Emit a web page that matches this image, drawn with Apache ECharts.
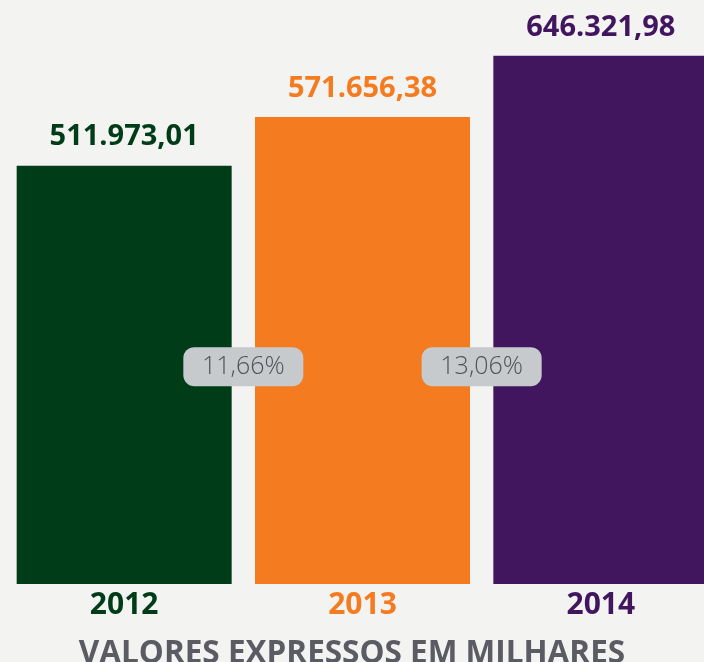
<!DOCTYPE html>
<html>
<head>
<meta charset="utf-8">
<script src="https://cdn.jsdelivr.net/npm/echarts@6/dist/echarts.min.js"></script>
<style>
  html, body { margin: 0; padding: 0; background: #f3f3f2; }
  #chart { width: 704px; height: 662px; }
</style>
</head>
<body>
<div id="chart"></div>
<script>
// dados
const years = ['2012', '2013', '2014']
const values = [511973.01, 571656.38, 646321.98]
const barColors = ['#003c18', '#f47b20', '#42165f']
const growthLabels = ['11,66%', '13,06%']
const growthPos = [0.5, 1.5]   // entre as barras
const growthLevel = 266000

const fmt = v => {
  const [int, dec] = v.toFixed(2).split('.')
  return int.replace(/\B(?=(\d{3})+(?!\d))/g, '.') + ',' + dec
}

const chart = echarts.init(document.getElementById('chart'))

const option = {
  backgroundColor: '#f3f3f2',
  animation: false,
  title: {
    text: 'VALORES EXPRESSOS EM MILHARES',
    left: 'center',
    top: 633,
    textStyle: {
      color: '#5b5b63',
      fontSize: 31.5,
      fontWeight: 'bold',
      fontFamily: 'Open Sans'
    }
  },
  grid: { left: 5, width: 715, top: 12, bottom: 78, outerBoundsMode: 'none' },
  xAxis: [
    {
      type: 'category',
      data: years.map((y, i) => ({
        value: y,
        textStyle: { color: barColors[i] }
      })),
      axisLine: { show: false },
      axisTick: { show: false },
      axisLabel: {
        margin: 6,
        fontSize: 30,
        fontWeight: 'bold',
        fontFamily: 'Open Sans'
      }
    },
    {
      type: 'value',
      min: -0.5,
      max: 2.5,
      show: false
    }
  ],
  yAxis: {
    type: 'value',
    min: 0,
    max: 700000,
    show: false,
    splitLine: { show: false }
  },
  series: [
    {
      type: 'bar',
      barWidth: 215,
      data: values.map((v, i) => ({
        value: v,
        itemStyle: { color: barColors[i] },
        label: { color: barColors[i] }
      })),
      label: {
        show: true,
        position: 'top',
        distance: 14,
        fontSize: 29,
        fontWeight: 'bold',
        fontFamily: 'Open Sans',
        formatter: p => fmt(p.value)
      }
    },
    {
      type: 'scatter',
      xAxisIndex: 1,
      symbolSize: 0,
      itemStyle: { opacity: 1 },
      data: growthPos.map((x, i) => ({ value: [x, growthLevel], name: growthLabels[i] })),
      label: {
        show: true,
        position: 'inside',
        color: '#505256',
        fontSize: 25,
        fontWeight: 300,
        fontFamily: 'Open Sans',
        backgroundColor: '#c6cacd',
        borderRadius: 11,
        width: 120,
        height: 39,
        lineHeight: 39,
        align: 'center',
        verticalAlign: 'middle',
        formatter: p => p.name
      },
      z: 5
    }
  ]
}

chart.setOption(option)
</script>
</body>
</html>
